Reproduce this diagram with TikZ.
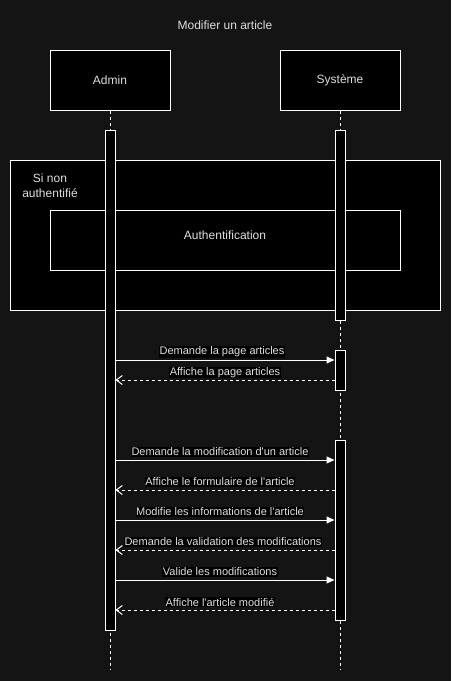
\documentclass[tikz,border=0pt]{standalone}
\usepackage{fontspec}
\setmainfont{Liberation Sans}
\usetikzlibrary{arrows.meta}
\definecolor{bg}{RGB}{20,20,20}
\definecolor{txt}{RGB}{222,222,222}
\newcommand{\apo}{\textquotesingle}
\begin{document}
\begin{tikzpicture}[x=1pt,y=-1pt,
  box/.style={draw=white, fill=black, line width=1pt, inner sep=0pt, text=txt, font=\fontsize{12}{15}\selectfont},
  bar/.style={draw=white, fill=black, line width=1pt, inner sep=0pt, minimum width=10pt},
  life/.style={draw=white, line width=1pt, dash pattern=on 3pt off 3pt},
  req/.style={draw=white, line width=1pt, -{Triangle[length=8pt,width=7pt,fill=white]}},
  ret/.style={draw=white, line width=1pt, dash pattern=on 3pt off 3pt, -{Straight Barb[length=6pt,width=9pt]}},
  lbl/.style={fill=black, text=txt, inner sep=0.5pt, font=\fontsize{11}{13}\selectfont},
  plain/.style={text=txt, inner sep=0pt, font=\fontsize{12}{15}\selectfont, align=center}
]
\fill[bg] (0,0) rectangle (451,681);
\useasboundingbox (0,0) rectangle (451,681);

\node[plain] (title) at (225,25) {Modifier un article};

\node[box, minimum width=120pt, minimum height=60pt] (admin) at (110,80) {Admin};
\node[box, minimum width=120pt, minimum height=60pt] (sys) at (340,80) {Système};

% frame
\node[box, minimum width=430pt, minimum height=150pt] (frame) at (225,235) {};
\node[plain] (cond) at (50,185.5) {Si non\\authentifié};
\node[box, minimum width=350pt, minimum height=60pt] (auth) at (225,240) {};
\node[plain] (authtxt) at (225,235) {Authentification};

% lifelines
\coordinate (aend) at (110,670);
\coordinate (send) at (340,670);
\draw[life] (admin.south) -- (aend);
\draw[life] (sys.south) -- (send);

% activation bars
\node[bar, minimum height=500pt] (abar) at (110,380) {};
\node[bar, minimum height=190pt] (sbar1) at (340,225) {};
\node[bar, minimum height=40pt] (sbar2) at (340,370) {};
\node[bar, minimum height=180pt] (sbar3) at (340,530) {};

% message rows
\coordinate (m1) at (0,360);
\coordinate (m2) at (0,380);
\coordinate (m3) at (0,460);
\coordinate (m4) at (0,490);
\coordinate (m5) at (0,520);
\coordinate (m6) at (0,550);
\coordinate (m7) at (0,580);
\coordinate (m8) at (0,610);

\draw[req] (abar.east |- m1) -- (sbar2.west |- m1);
\draw[ret] (sbar2.west |- m2) -- (abar.east |- m2);
\draw[req] (abar.east |- m3) -- (sbar3.west |- m3);
\draw[ret] (sbar3.west |- m4) -- (abar.east |- m4);
\draw[req] (abar.east |- m5) -- (sbar3.west |- m5);
\draw[ret] (sbar3.west |- m6) -- (abar.east |- m6);
\draw[req] (abar.east |- m7) -- (sbar3.west |- m7);
\draw[ret] (sbar3.west |- m8) -- (abar.east |- m8);

\node[lbl] (l1) at (222,352) {Demande la page articles};
\node[lbl] (l2) at (225,372.5) {Affiche la page articles};
\node[lbl] (l3) at (220,452) {Demande la modification d\apo un article};
\node[lbl] (l4) at (220,482) {Affiche le formulaire de l\apo article};
\node[lbl] (l5) at (220,512) {Modifie les informations de l\apo article};
\node[lbl] (l6) at (223,542) {Demande la validation des modifications};
\node[lbl] (l7) at (220,572) {Valide les modifications};
\node[lbl] (l8) at (220,602) {Affiche l\apo article modifié};
\end{tikzpicture}
\end{document}
